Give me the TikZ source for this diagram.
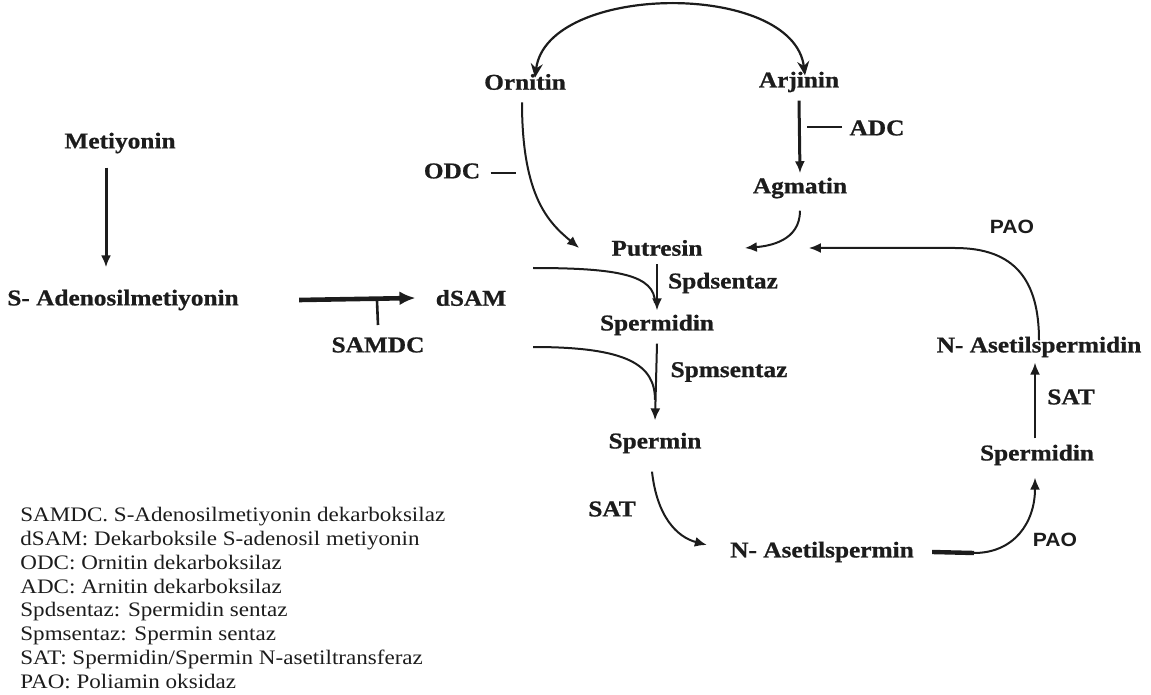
\documentclass[tikz,border=0pt]{standalone}
\usepackage{fontspec}
\setmainfont{Liberation Serif}[FakeStretch=1.12,BoldFeatures={FakeBold=0.8}]
\newfontfamily\pasans{Liberation Sans}[FakeStretch=1.1]
\usetikzlibrary{arrows.meta,positioning}
\definecolor{PaInk}{RGB}{28,28,28}
\tikzset{
  pa/met/.style={
    font=\fontsize{11.3}{13}\selectfont\bfseries,
    text=PaInk,
    inner sep=1pt
  },
  pa/sans/.style={
    font=\pasans\fontsize{9.6}{11}\selectfont\bfseries,
    text=PaInk,
    inner sep=1pt
  },
  pa/legend/.style={
    font=\fontsize{10.3}{11.9}\selectfont,
    text=PaInk,
    align=left,
    anchor=north west,
    inner sep=0pt
  },
  pa/arrow/.style={-{Latex[length=6pt,width=5pt]}, line width=1pt, draw=PaInk},
  pa/bigarrow/.style={-{Latex[length=8pt,width=7pt]}, line width=2.3pt, draw=PaInk},
  pa/line/.style={line width=1pt, draw=PaInk},
  pa/tick/.style={line width=1.3pt, draw=PaInk},
  pa/twoway/.style={{Stealth[length=7pt,width=6pt]}-{Stealth[length=7pt,width=6pt]}, line width=1.1pt, draw=PaInk}
}

\begin{document}
\begin{tikzpicture}[x=0.5pt,y=-0.5pt]
  \useasboundingbox (0,0) rectangle (1151,695);
  % metabolites
  \node[pa/met] (met) at (120,143) {Metiyonin};
  \node[pa/met] (sam) at (123,300) {S- Adenosilmetiyonin};
  \node[pa/met] (dsam) at (471,298) {dSAM};
  \node[pa/met] (orn) at (525,82) {Ornitin};
  \node[pa/met] (arj) at (799,82) {Arjinin};
  \node[pa/met] (agm) at (800,188) {Agmatin};
  \node[pa/met] (put) at (657,248) {Putresin};
  \node[pa/met] (spd) at (657,325) {Spermidin};
  \node[pa/met] (spm) at (655,443) {Spermin};
  \node[pa/met] (asp) at (822,552) {N- Asetilspermin};
  \node[pa/met] (spr) at (1037,455) {Spermidin};
  \node[pa/met] (asd) at (1039,347) {N- Asetilspermidin};
  % enzymes
  \node[pa/met] (samdc) at (378,345) {SAMDC};
  \node[pa/met] (odc) at (452,171) {ODC};
  \node[pa/met] (adc) at (877,128) {ADC};
  \node[pa/met] (spds) at (723,283) {Spdsentaz};
  \node[pa/met] (spms) at (729,372) {Spmsentaz};
  \node[pa/met] (sat1) at (612,509) {SAT};
  \node[pa/met] (sat2) at (1071,397) {SAT};
  \node[pa/sans] (pao1) at (1012,227) {PAO};
  \node[pa/sans] (pao2) at (1055,540) {PAO};
  % free ends
  \coordinate (samTick) at (377,301);
  \coordinate (odcTick) at (516,173);
  \coordinate (adcTick) at (807,127);
  \coordinate (spdIn) at (533,268);
  \coordinate (spdJoin) at (655,303);
  \coordinate (spmIn) at (533,347);
  \coordinate (spmJoin) at (655,400);
  \coordinate (paoBend) at (955,248);
  \coordinate (aspBend) at (974,553);
  % connectors
  \draw[pa/arrow, line width=1.5pt] ([shift={(-14,12)}]met.south) -- ([shift={(-17,-20)}]sam.north);
  \draw[pa/bigarrow] ([xshift=29pt]sam.east) -- ([xshift=-9pt]dsam.west);
  \draw[pa/tick] (samTick) -- ([yshift=5pt]samdc.north);
  \draw[pa/twoway] ([shift={(10,6)}]orn.north) .. controls +(12,-95) and +(-12,-95) .. ([shift={(6,6)}]arj.north);
  \draw[pa/arrow] ([shift={(-3,10)}]orn.south) .. controls +(0,95) and +(-30,-25) .. ([xshift=-15pt]put.west);
  \draw[pa/tick] ([shift={(8,2)}]odc.east) -- (odcTick);
  \draw[pa/arrow, line width=1.5pt] ([yshift=-3pt]arj.south) -- ([yshift=1pt]agm.north);
  \draw[pa/tick] ([shift={(-5,-1)}]adc.west) -- (adcTick);
  \draw[pa/arrow] ([shift={(0,10)}]agm.south) .. controls +(0,30) and +(25,-2) .. ([xshift=20pt]put.east);
  \draw[pa/arrow] ([yshift=-3pt]asd.north) .. controls +(0,-60) and +(60,0) .. (paoBend) -- ([xshift=52pt]put.east);
  \draw[pa/arrow] ([yshift=-3pt]put.south) -- ([yshift=1pt]spd.north);
  \draw[pa/line] (spdIn) .. controls +(85,0) and +(0,-28) .. (spdJoin);
  \draw[pa/arrow] ([yshift=-3pt]spd.south) -- ([yshift=5pt]spm.north);
  \draw[pa/line] (spmIn) .. controls +(95,0) and +(0,-35) .. (spmJoin);
  \draw[pa/arrow] ([shift={(-3,16)}]spm.south) .. controls +(5,45) and +(-30,-8) .. ([shift={(-21,-7)}]asp.west);
  \draw[pa/line, line width=2.2pt] ([xshift=8pt]asp.east) -- (aspBend);
  \draw[pa/arrow] (aspBend) .. controls +(40,0) and +(0,45) .. ([shift={(-2,10)}]spr.south);
  \draw[pa/arrow] ([shift={(-2,-4)}]spr.north) -- ([shift={(-4,3)}]asd.south);
  % legend
  \node[pa/legend] (legend) at (20,507) {SAMDC. S-Adenosilmetiyonin dekarboksilaz\\
    dSAM: Dekarboksile S-adenosil metiyonin\\
    ODC: Ornitin dekarboksilaz\\
    ADC: Arnitin dekarboksilaz\\
    Spdsentaz: Spermidin sentaz\\
    Spmsentaz: Spermin sentaz\\
    SAT: Spermidin/Spermin N-asetiltransferaz\\
    PAO: Poliamin oksidaz};
\end{tikzpicture}
\end{document}
